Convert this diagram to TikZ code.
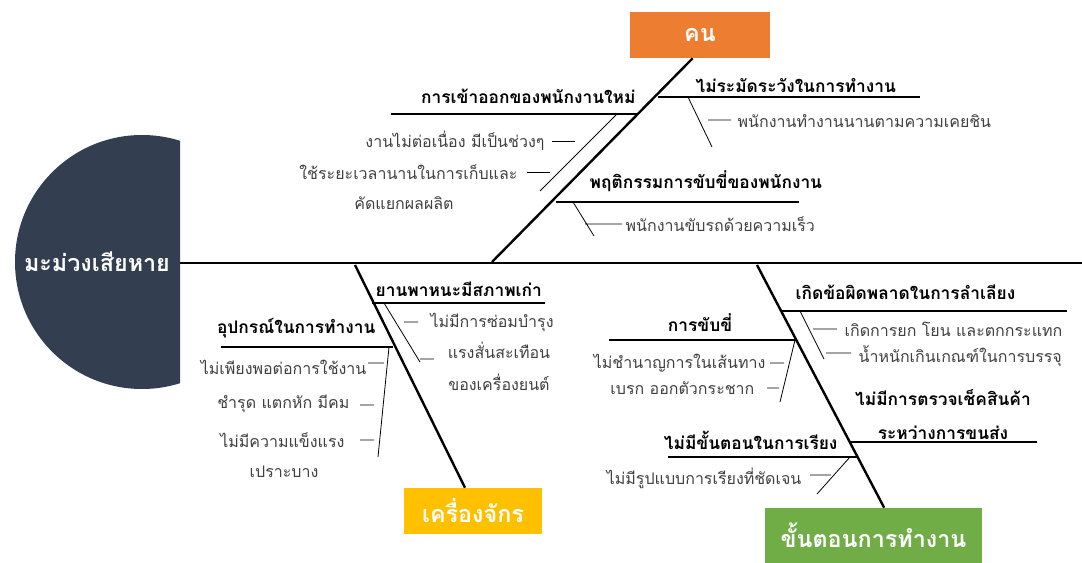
\documentclass[tikz,border=0pt]{standalone}
\usepackage{fontspec}
\newfontfamily\thaifont[Script=Thai]{Loma}
\definecolor{headblue}{HTML}{333F50}
\definecolor{manorange}{HTML}{ED7D31}
\definecolor{machgold}{HTML}{FFC000}
\definecolor{stepgreen}{HTML}{70AD47}
\definecolor{itemgray}{HTML}{404040}
\tikzset{
	catbox/.style={fill=#1, text=white, inner sep=0pt, font=\thaifont\bfseries\fontsize{17.5}{20}\selectfont},
	cause/.style={inner sep=1pt, font=\thaifont\bfseries\fontsize{13}{15}\selectfont},
	item/.style={inner sep=1pt, text=itemgray, font=\thaifont\fontsize{12}{15}\selectfont},
	bone/.style={line width=1.8pt},
	rib/.style={line width=1.4pt},
	twig/.style={line width=0.6pt},
}
\begin{document}
\begin{tikzpicture}[x=0.75pt,y=-0.75pt, line join=round]
	\useasboundingbox (0,0) rectangle (1082,563);
	% head of the fish
	\begin{scope}
		\clip (0,0) rectangle (180,563);
		\fill[headblue] (142,262) circle (127);
	\end{scope}
	\node[text=white, font=\thaifont\bfseries\fontsize{17.5}{20}\selectfont] (head) at (97,262) {มะม่วงเสียหาย};
	\coordinate (tail) at (180,263);
	\coordinate (spineend) at (1082,263);
	\draw[line width=2.2pt] (tail) -- (spineend);
	% category boxes
	\node[catbox=manorange, minimum width=105pt, minimum height=34.5pt] (man) at (700,35) {คน};
	\node[catbox=machgold, minimum width=103.5pt, minimum height=34.5pt] (mach) at (473,511) {เครื่องจักร};
	\node[catbox=stepgreen, minimum width=162.75pt, minimum height=41.25pt] (proc) at (873.5,535.5) {ขั้นตอนการทำงาน};
	\coordinate (manroot) at (492,262);
	\coordinate (machroot) at (355,265);
	\coordinate (procroot) at (757,265);
	\draw[bone] ([xshift=-5.5pt]man.south) -- (manroot);
	\draw[bone] ([xshift=-6pt]mach.north) -- (machroot);
	\draw[bone] ([xshift=8pt]proc.north) -- (procroot);
	% คน
	\draw[rib] (391,114) -- (638,114);
	\draw[twig] (617,114) -- (540,191);
	\draw[twig] (552,141) -- (575,141) (527,172) -- (550,172);
	\path
	(637,96) node[cause, anchor=east] (newstaff) {การเข้าออกของพนักงานใหม่}
	(546,141) node[item, anchor=east] (gap) {งานไม่ต่อเนื่อง มีเป็นช่วงๆ}
	(519,172) node[item, anchor=east] (sorttime) {ใช้ระยะเวลานานในการเก็บและ}
	(404,203) node[item] (sortcont) {คัดแยกผลผลิต}
	;
	\draw[rib] (658,97) -- (920,97);
	\draw[twig] (688,97) -- (712,147) (708,120) -- (731,120);
	\path
	(694,85) node[cause, anchor=west] (careless) {ไม่ระมัดระวังในการทำงาน}
	(736,121) node[item, anchor=west] (habit) {พนักงานทำงานนานตามความเคยชิน}
	;
	\draw[rib] (556,202) -- (799,202);
	\draw[twig] (573,202) -- (594,236) (585,224) -- (622,224);
	\path
	(588,181) node[cause, anchor=west] (driving) {พฤติกรรมการขับขี่ของพนักงาน}
	(624,224) node[item, anchor=west] (speed) {พนักงานขับรถด้วยความเร็ว}
	;
	% เครื่องจักร
	\draw[rib] (372,303) -- (545,303);
	\draw[twig] (384,303) -- (420,362) (404,322) -- (418,322) (420,359) -- (434,359);
	\path
	(374,289) node[cause, anchor=west] (vehicle) {ยานพาหนะมีสภาพเก่า}
	(429,322) node[item, anchor=west] (repair) {ไม่มีการซ่อมบำรุง}
	(499,366) node[item, align=center, font=\thaifont\fontsize{12}{24}\selectfont] (shake) {แรงสั่นสะเทือน\\ของเครื่องยนต์}
	;
	\draw[rib] (221,347) -- (393,347);
	\draw[twig] (389,347) -- (378,457) (368,363) -- (384,363) (360,405) -- (374,405) (360,440) -- (374,440);
	\path
	(377,328) node[cause, anchor=east] (tools) {อุปกรณ์ในการทำงาน}
	(368,367) node[item, anchor=east] (notenough) {ไม่เพียงพอต่อการใช้งาน}
	(351,404) node[item, anchor=east] (broken) {ชำรุด แตกหัก มีคม}
	(346,440) node[item, anchor=east] (weak) {ไม่มีความแข็งแรง}
	(284,472) node[item] (brittle) {เปราะบาง}
	;
	% ขั้นตอนการทำงาน
	\draw[rib] (781,311) -- (1067,311);
	\draw[twig] (800,311) -- (824,359) (813,329) -- (837,329) (826,353) -- (851,353);
	\path
	(794,292) node[cause, anchor=west] (transfer) {เกิดข้อผิดพลาดในการลำเลียง}
	(843,329) node[item, anchor=west] (drop) {เกิดการยก โยน และตกกระแทก}
	(857,356) node[item, anchor=west] (overload) {น้ำหนักเกินเกณฑ์ในการบรรจุ}
	;
	\draw[rib] (851,442) -- (1037,442);
	\path (943,415) node[cause, align=center, font=\thaifont\bfseries\fontsize{13}{25.5}\selectfont] (nocheck) {ไม่มีการตรวจเช็คสินค้า\\ระหว่างการขนส่ง};
	\draw[rib] (609,340) -- (797,340);
	\draw[twig] (795,340) -- (780,402) (770,363) -- (784,363) (767,388) -- (779,388);
	\path
	(700,323) node[cause] (ride) {การขับขี่}
	(767,363) node[item, anchor=east] (route) {ไม่ชำนาญการในเส้นทาง}
	(756,388) node[item, anchor=east] (brake) {เบรก ออกตัวกระชาก}
	;
	\draw[rib] (668,457) -- (858,457);
	\draw[twig] (850,457) -- (817,494) (810,475) -- (831,475);
	\path
	(839,440) node[cause, anchor=east] (noorder) {ไม่มีขั้นตอนในการเรียง}
	(803,478) node[item, anchor=east] (nopattern) {ไม่มีรูปแบบการเรียงที่ชัดเจน}
	;
\end{tikzpicture}
\end{document}
